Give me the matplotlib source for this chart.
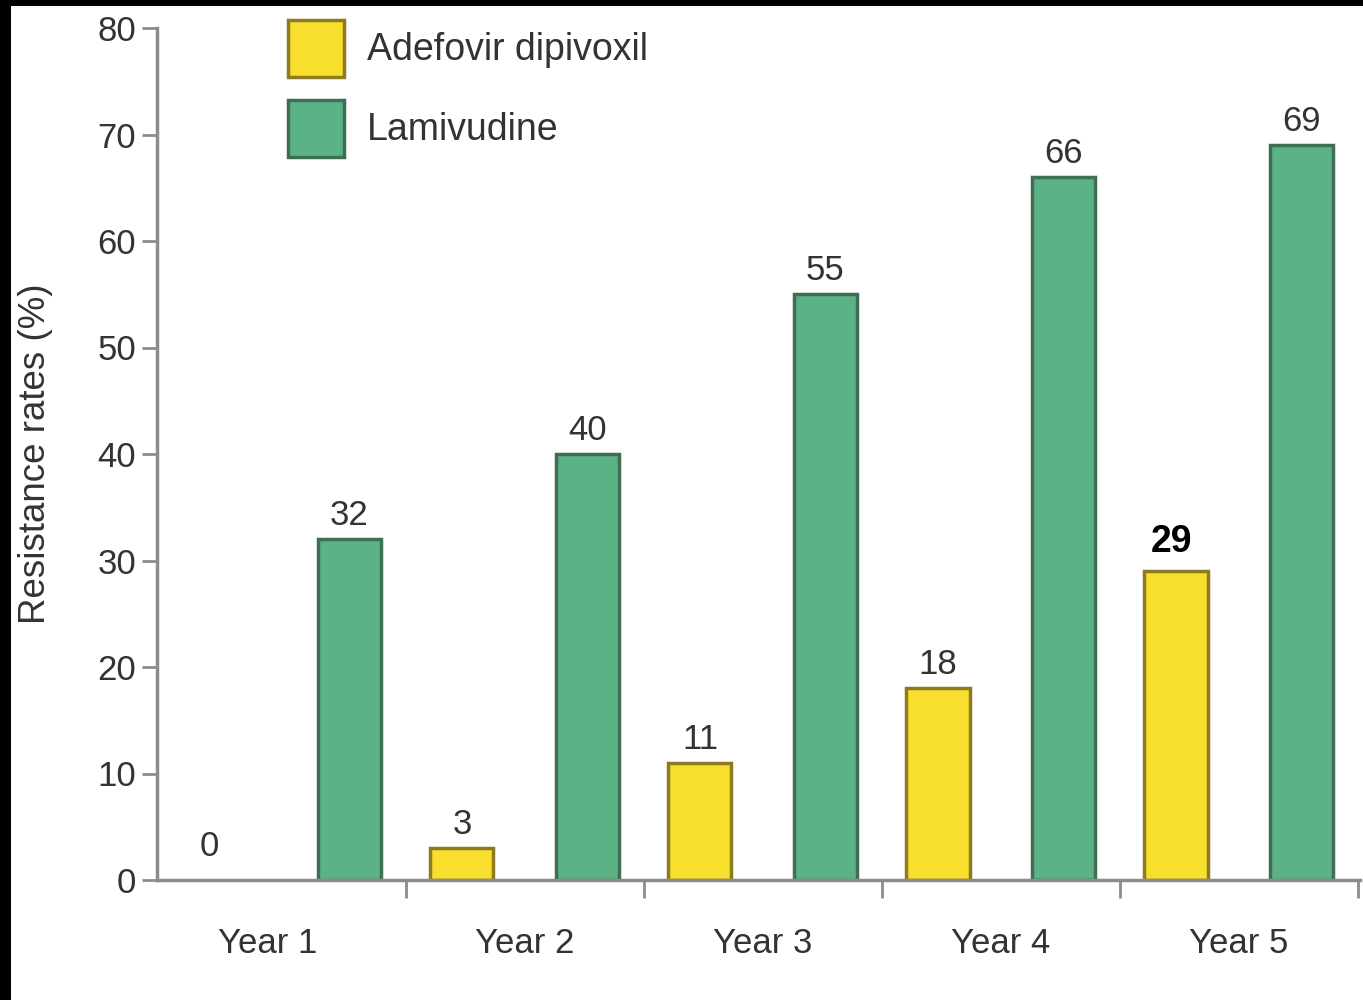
import matplotlib.pyplot as plt
from matplotlib.patches import Patch, Rectangle

# Resistance rates by year of treatment
years = ["Year 1", "Year 2", "Year 3", "Year 4", "Year 5"]
adefovir = [0, 3, 11, 18, 29]
lamivudine = [32, 40, 55, 66, 69]

adef_face, adef_edge = "#F8DF2E", "#8C7B1F"
lam_face, lam_edge = "#5BB385", "#3F6E55"
text_col = "#333333"
axis_col = "#8C8C8C"

plt.rcParams["font.family"] = ["Liberation Sans", "DejaVu Sans"]

fig = plt.figure(figsize=(13.63, 10), dpi=100)
ax = fig.add_axes([157 / 1363, 0.12, 1 - 160 / 1363, 0.852])

offset = 0.263
width = 0.265
xs = list(range(len(years)))
x_adef = [x - offset for x in xs]
x_lam = [x + offset for x in xs]

# a zero value gets no outline so nothing shows on the axis
adef_edges = [adef_edge if v > 0 else "none" for v in adefovir]
ax.bar(x_adef, adefovir, width=width, color=adef_face, edgecolor=adef_edges,
       linewidth=2.5, zorder=2)
ax.bar(x_lam, lamivudine, width=width, color=lam_face, edgecolor=lam_edge,
       linewidth=2.5, zorder=2)

# value labels above bars (the last adefovir one is set in bold black)
for i, (x, v) in enumerate(zip(x_adef, adefovir)):
    if i == len(adefovir) - 1:
        ax.annotate(str(v), (x - 0.02, v), xytext=(0, 8), textcoords="offset points",
                    ha="center", va="bottom", fontsize=27, fontweight="bold",
                    color="black")
    else:
        ax.annotate(str(v), (x - 0.06 if v == 0 else x, v), xytext=(0, 12 if v == 0 else 5),
                    textcoords="offset points", ha="center", va="bottom",
                    fontsize=25, color=text_col)
for x, v in zip(x_lam, lamivudine):
    ax.annotate(str(v), (x, v), xytext=(0, 5), textcoords="offset points",
                ha="center", va="bottom", fontsize=25, color=text_col)

ax.set_xlim(-0.544, 4.51)
ax.set_ylim(0, 80)
ax.set_yticks(range(0, 81, 10))

# ticks sit between the year groups, labels sit in the middle of each group
ax.set_xticks([x + 0.5 for x in xs])
ax.set_xticklabels([])
label_pos = [-0.08] + xs[1:]
ax.set_xticks(label_pos, minor=True)
ax.set_xticklabels(years, minor=True)
ax.tick_params(axis="x", which="major", direction="out", length=13, width=2,
               color=axis_col)
ax.tick_params(axis="x", which="minor", length=0, pad=34, labelsize=25,
               labelcolor=text_col)
ax.tick_params(axis="y", direction="out", length=11, width=2, color=axis_col,
               pad=4, labelsize=25, labelcolor=text_col)

for spine in ["top", "right"]:
    ax.spines[spine].set_visible(False)
for spine in ["left", "bottom"]:
    ax.spines[spine].set_color(axis_col)
    ax.spines[spine].set_linewidth(2.5)

ax.set_ylabel("Resistance rates (%)", fontsize=26.5, color=text_col, labelpad=32)

handles = [
    Patch(facecolor=adef_face, edgecolor=adef_edge, linewidth=2.5, label="Adefovir dipivoxil"),
    Patch(facecolor=lam_face, edgecolor=lam_edge, linewidth=2.5, label="Lamivudine"),
]
leg = ax.legend(handles=handles, loc="upper left",
                bbox_to_anchor=(288 / 1363, 1 - 20 / 1000),
                bbox_transform=fig.transFigure, frameon=False, fontsize=27,
                borderpad=0, borderaxespad=0, handlelength=1.5,
                handleheight=1.95, labelspacing=0.62, handletextpad=0.6)
for t in leg.get_texts():
    t.set_color(text_col)

# dark frame along the top and left edges
fig.patches.append(Rectangle((0, 1 - 6 / 1000), 1, 6 / 1000, transform=fig.transFigure,
                             facecolor="black", edgecolor="none", zorder=10))
fig.patches.append(Rectangle((0, 0), 11 / 1363, 1, transform=fig.transFigure,
                             facecolor="black", edgecolor="none", zorder=10))

fig.savefig("out.png", dpi=100)
